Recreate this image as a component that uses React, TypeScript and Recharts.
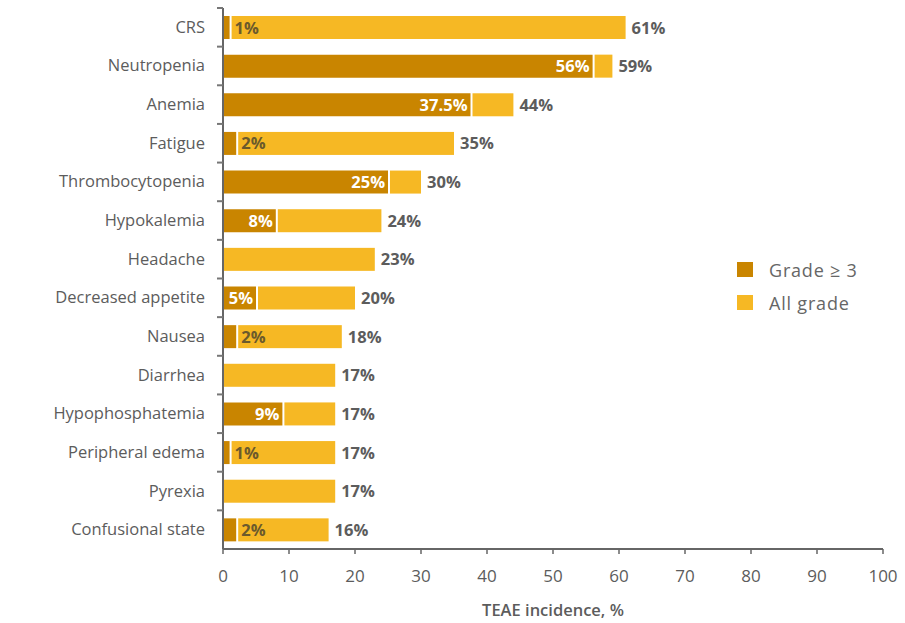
import React from "react";
import {
  BarChart,
  Bar,
  XAxis,
  YAxis,
  Legend,
  LabelList,
} from "recharts";

const categories = [
  "CRS",
  "Neutropenia",
  "Anemia",
  "Fatigue",
  "Thrombocytopenia",
  "Hypokalemia",
  "Headache",
  "Decreased appetite",
  "Nausea",
  "Diarrhea",
  "Hypophosphatemia",
  "Peripheral edema",
  "Pyrexia",
  "Confusional state",
];
const grade3 = [1, 56, 37.5, 2, 25, 8, 0, 5, 2, 0, 9, 1, 0, 2];
const allGrade = [61, 59, 44, 35, 30, 24, 23, 20, 18, 17, 17, 17, 17, 16];
const xTicks = [0, 10, 20, 30, 40, 50, 60, 70, 80, 90, 100];

const DARK = "#c98500";
const LIGHT = "#f6b824";
const TEXT = "#5c5c5c";
const FONT = "'Open Sans', sans-serif";

const data = categories.map((name, i) => ({
  name,
  g3: grade3[i],
  rest: allGrade[i] - grade3[i],
  all: allGrade[i],
}));

const W = 905;
const H = 623;
const TOP = 8;
const XAXIS_H = 74;
const AXIS_X = 223;
const BAND = (H - TOP - XAXIS_H) / categories.length;

function CategoryTick(props: any) {
  const { y, payload } = props;
  return (
    <g>
      <line x1={AXIS_X - 6} x2={AXIS_X} y1={y - BAND / 2} y2={y - BAND / 2} stroke="#777" strokeWidth={2} />
      <text x={AXIS_X - 18} y={y} dy={5.5} textAnchor="end" fill={TEXT} fontSize={16.5} fontFamily={FONT}>
        {payload.value}
      </text>
    </g>
  );
}

function NumberTick(props: any) {
  const { x, y, payload } = props;
  return (
    <text x={x} y={y} dy={26} textAnchor="middle" fill={TEXT} fontSize={17} fontFamily={FONT}>
      {payload.value}
    </text>
  );
}

function RestShape(props: any) {
  const { x, y, width, height, payload } = props;
  const gap = payload && payload.g3 > 0 ? 2 : 0;
  return <rect x={x + gap} y={y} width={Math.max(0, width - gap)} height={height} fill={LIGHT} />;
}

function Grade3Label(props: any) {
  const { x, y, width, height, value } = props;
  if (!value) return null;
  const cy = y + height / 2 + 6;
  if (value >= 5) {
    return (
      <text x={x + width - 3} y={cy} textAnchor="end" fill="#fff" fontSize={16.5} fontWeight={700} fontFamily={FONT}>
        {value}%
      </text>
    );
  }
  return (
    <text x={x + width + 5} y={cy} textAnchor="start" fill="#6b5a2c" fontSize={16.5} fontWeight={700} fontFamily={FONT}>
      {value}%
    </text>
  );
}

function TotalLabel(props: any) {
  const { x, y, width, height, value } = props;
  return (
    <text x={x + width + 6} y={y + height / 2 + 6} textAnchor="start" fill={TEXT} fontSize={16.5} fontWeight={700} fontFamily={FONT}>
      {value}%
    </text>
  );
}

function LegendBox() {
  const items = [
    { label: "Grade \u2265 3", color: DARK },
    { label: "All grade", color: LIGHT },
  ];
  return (
    <div style={{ fontFamily: FONT, fontSize: 18, color: "#666", letterSpacing: 0.8 }}>
      {items.map((it) => (
        <div key={it.label} style={{ display: "flex", alignItems: "center", height: 33 }}>
          <span style={{ width: 16, height: 15, background: it.color, marginRight: 16 }} />
          <span>{it.label}</span>
        </div>
      ))}
    </div>
  );
}

export default function App() {
  return (
    <div style={{ position: "absolute", left: 0, top: 0, width: W, height: H, background: "#fff" }}>
      <BarChart
        width={W}
        height={H}
        data={data}
        layout="vertical"
        margin={{ top: TOP, right: 22, left: 0, bottom: 0 }}
        barSize={23}
      >
        <XAxis
          type="number"
          domain={[0, 100]}
          ticks={xTicks}
          interval={0}
          height={XAXIS_H}
          tickSize={5}
          tickLine={{ stroke: "#666", strokeWidth: 1.5 }}
          axisLine={{ stroke: "#666", strokeWidth: 2 }}
          tick={<NumberTick />}
          label={{
            value: "TEAE incidence, %",
            position: "insideBottom",
            offset: 7,
            fill: TEXT,
            fontSize: 16.5,
            fontWeight: 600,
            fontFamily: FONT,
          }}
        />
        <YAxis
          type="category"
          dataKey="name"
          width={AXIS_X}
          interval={0}
          tickLine={false}
          axisLine={{ stroke: "#666", strokeWidth: 2 }}
          tick={<CategoryTick />}
        />
        <Legend
          layout="vertical"
          align="center"
          verticalAlign="middle"
          wrapperStyle={{ top: 253, left: 737, width: 160 }}
          content={() => <LegendBox />}
        />
        <Bar dataKey="g3" name="Grade ≥ 3" stackId="a" fill={DARK} isAnimationActive={false}>
          <LabelList dataKey="g3" content={<Grade3Label />} />
        </Bar>
        <Bar dataKey="rest" name="All grade" stackId="a" fill={LIGHT} shape={<RestShape />} isAnimationActive={false}>
          <LabelList dataKey="all" content={<TotalLabel />} />
        </Bar>
      </BarChart>
    </div>
  );
}
